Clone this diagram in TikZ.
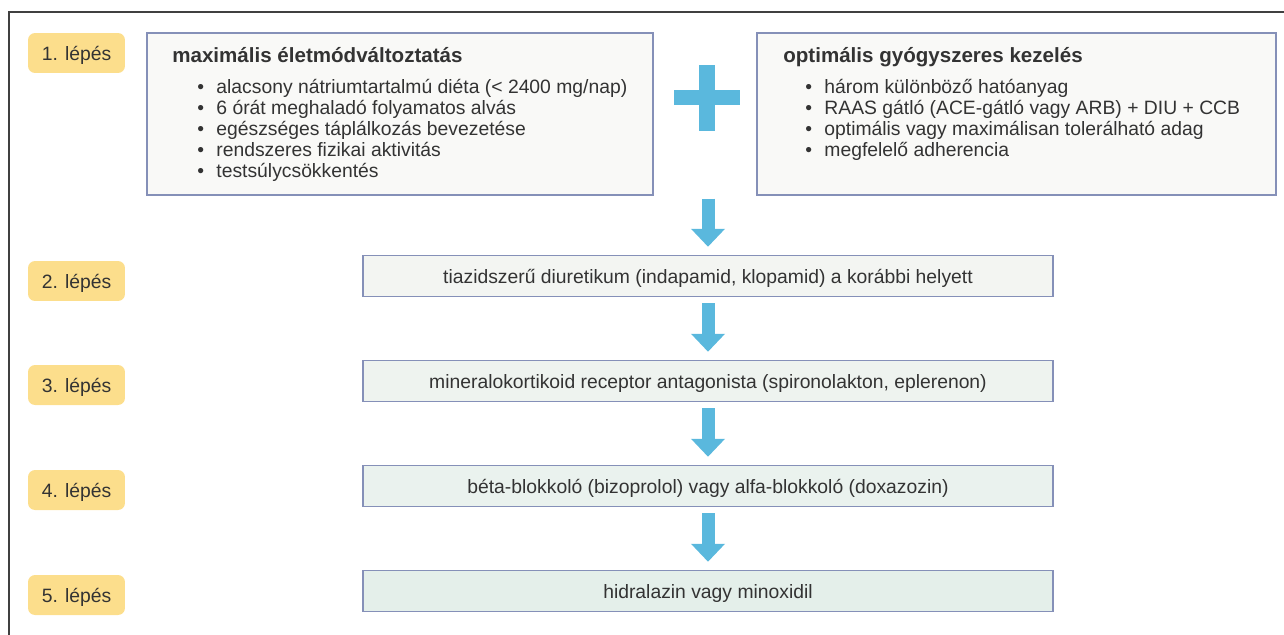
\documentclass[tikz,border=0pt]{standalone}
\usepackage{fontspec}
\setmainfont{Liberation Sans}
\usetikzlibrary{arrows.meta}

\definecolor{framegray}{HTML}{404040}
\definecolor{boxline}{HTML}{8590B8}
\definecolor{boxfill}{HTML}{F9F9F7}
\definecolor{stepyellow}{HTML}{FCDE8C}
\definecolor{arrowblue}{HTML}{5AB8DD}
\definecolor{txt}{HTML}{333333}

\tikzset{
  steplabel/.style={fill=stepyellow, rounded corners=0.14cm, minimum width=1.94cm,
    minimum height=0.8cm, inner sep=0pt, text height=9pt, text depth=0pt,
    text=txt, font=\fontsize{11}{13}\selectfont},
  bigbox/.style={draw=boxline, line width=0.03cm, fill=boxfill, minimum height=3.24cm, inner sep=0pt},
  drugbox/.style={draw=boxline, line width=0.03cm, minimum width=13.8cm, minimum height=0.82cm,
    inner sep=0pt, text height=9pt, text depth=0pt, text=txt, font=\fontsize{11}{13}\selectfont},
  boxtitle/.style={anchor=base west, inner sep=0pt, text=txt, font=\bfseries\fontsize{11.7}{14}\selectfont},
  item/.style={anchor=base west, inner sep=0pt, text=txt, font=\fontsize{11}{13}\selectfont},
  flow/.style={draw=arrowblue, line width=0.26cm, -{Triangle[width=0.66cm, length=0.36cm]}}
}

\begin{document}
\begin{tikzpicture}[x=0.02cm, y=-0.02cm]

    \useasboundingbox (0,0) rectangle (1284,635);

    % outer frame (top and left only)
    \draw[framegray, line width=0.03cm] (9,635) -- (9,12) -- (1284,12);

    % step labels
    \foreach \n/\y in {1/53, 2/281, 3/385, 4/490, 5/595}
        \node[steplabel] (step\n) at (76.5,\y) {\n. lépés};

    % step 1: two boxes and the plus sign
    \node[bigbox, minimum width=10.12cm] (life) at (400,114) {};
    \node[bigbox, minimum width=10.38cm] (drug) at (1016.5,114) {};

    \node[boxtitle] (lifetitle) at (172,63) {maximális életmódváltoztatás};
    \foreach \t [count=\i] in {{alacsony nátriumtartalmú diéta (< 2400 mg/nap)},
                               {6 órát meghaladó folyamatos alvás},
                               {egészséges táplálkozás bevezetése},
                               {rendszeres fizikai aktivitás},
                               {testsúlycsökkentés}}
        \node[item] (life\i) at (197,72+21*\i) {\textbullet\hspace{7pt}\t};

    \node[boxtitle] (drugtitle) at (783,63) {optimális gyógyszeres kezelés};
    \foreach \t [count=\i] in {{három különböző hatóanyag},
                               {RAAS gátló (ACE-gátló vagy ARB) + DIU + CCB},
                               {optimális vagy maximálisan tolerálható adag},
                               {megfelelő adherencia}}
        \node[item] (drug\i) at (805,72+21*\i) {\textbullet\hspace{7pt}\t};

    \coordinate (plus) at (707,98);
    \fill[arrowblue] ([shift={(-33,-7.5)}]plus) rectangle ([shift={(33,7.5)}]plus);
    \fill[arrowblue] ([shift={(-8,-33)}]plus) rectangle ([shift={(8,33)}]plus);

    % steps 2-5
    \node[drugbox, fill={rgb,255:red,243;green,245;blue,242}] (s2) at (708,276)
        {tiazidszerű diuretikum (indapamid, klopamid) a korábbi helyett};
    \node[drugbox, fill={rgb,255:red,238;green,243;blue,239}] (s3) at (708,381)
        {mineralokortikoid receptor antagonista (spironolakton, eplerenon)};
    \node[drugbox, fill={rgb,255:red,234;green,242;blue,238}] (s4) at (708,486)
        {béta-blokkoló (bizoprolol) vagy alfa-blokkoló (doxazozin)};
    \node[drugbox, fill={rgb,255:red,228;green,239;blue,234}] (s5) at (708,591)
        {hidralazin vagy minoxidil};

    % arrows
    \draw[flow, shorten <=0.06cm, shorten >=0.16cm] (s2.north |- life.south) -- (s2.north);
    \draw[flow, shorten <=0.12cm, shorten >=0.16cm] (s2.south) -- (s3.north);
    \draw[flow, shorten <=0.12cm, shorten >=0.16cm] (s3.south) -- (s4.north);
    \draw[flow, shorten <=0.12cm, shorten >=0.16cm] (s4.south) -- (s5.north);

\end{tikzpicture}
\end{document}
